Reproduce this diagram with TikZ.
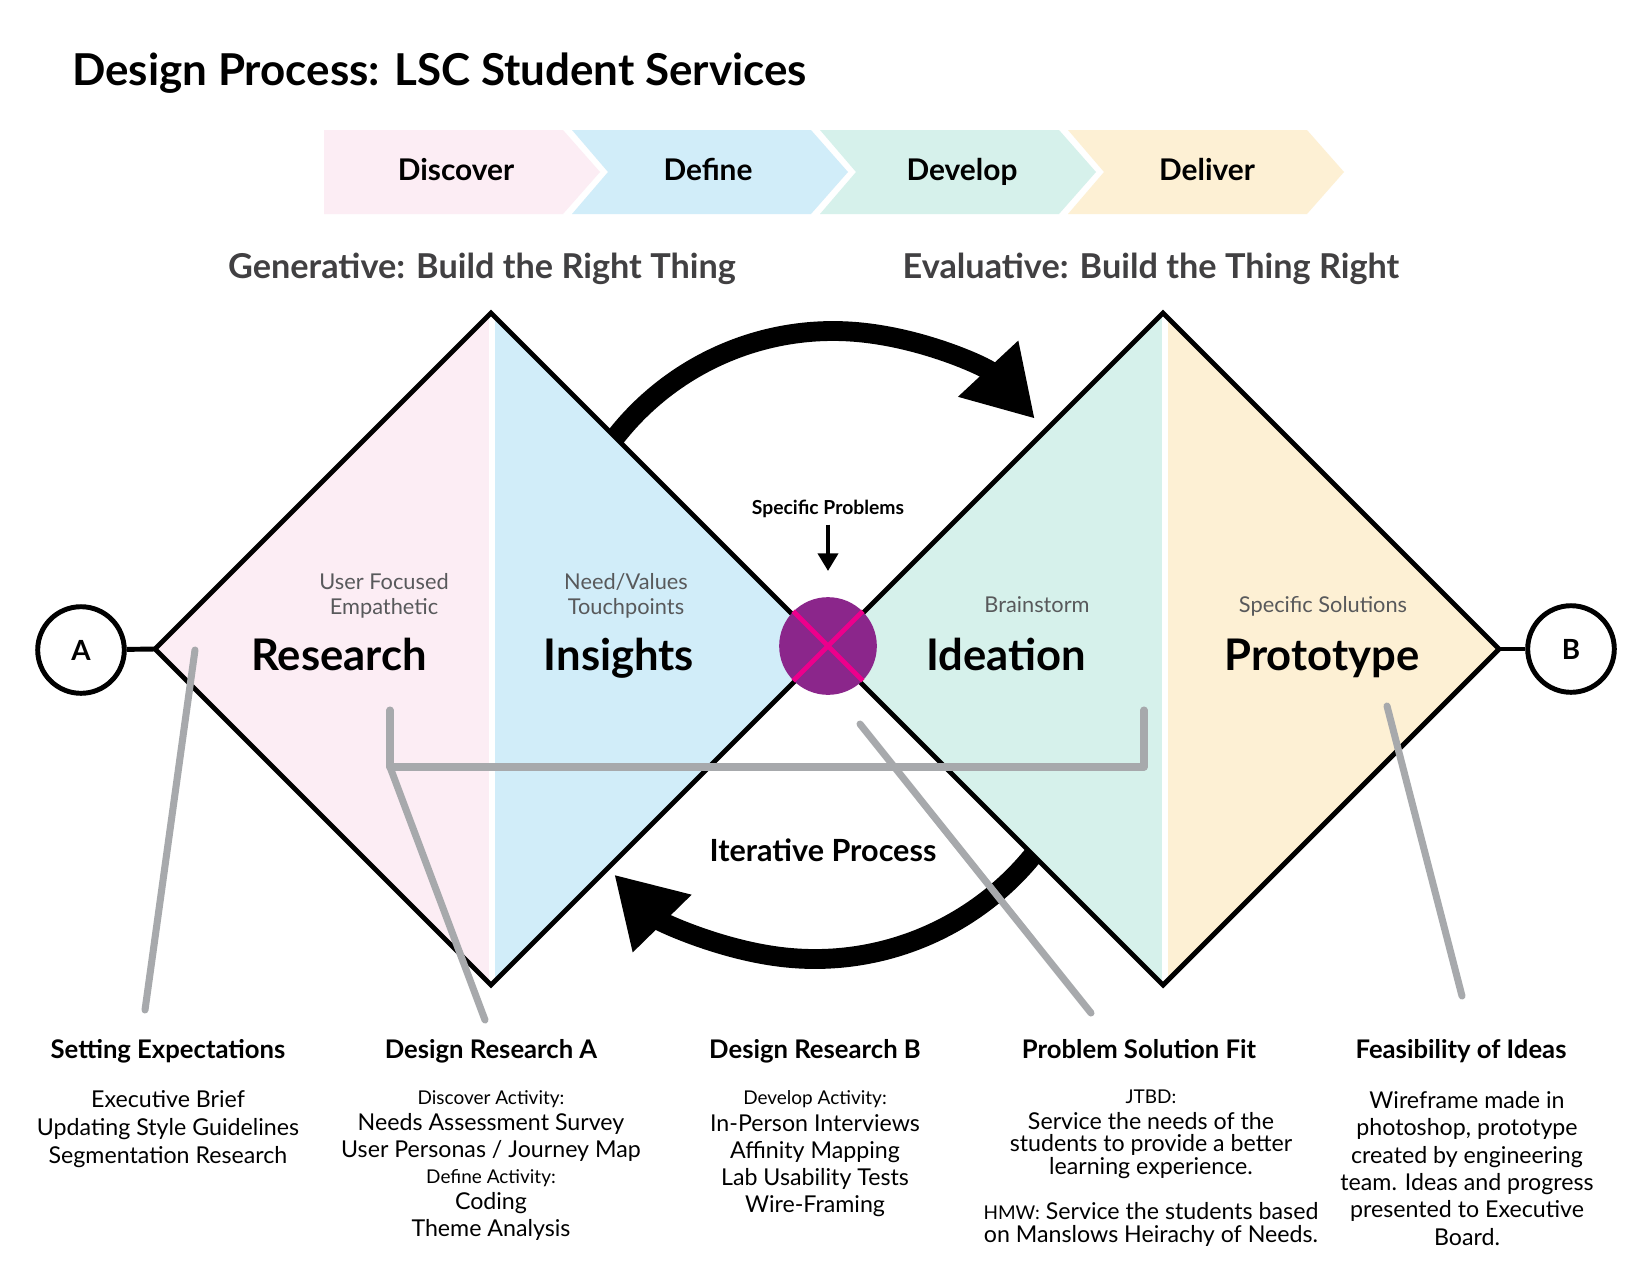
\documentclass[tikz,border=0pt]{standalone}
\usepackage{fontspec}
\setmainfont{Lato}
\usetikzlibrary{arrows.meta,positioning}
\definecolor{discoverpink}{RGB}{252,237,244}
\definecolor{defineblue}{RGB}{209,237,249}
\definecolor{developmint}{RGB}{214,241,235}
\definecolor{delivercream}{RGB}{253,240,212}
\definecolor{fitpurple}{RGB}{139,38,139}
\definecolor{fitmagenta}{RGB}{236,0,140}
\definecolor{leadgray}{RGB}{167,169,172}
\definecolor{hintgray}{RGB}{88,89,91}
\definecolor{modegray}{RGB}{65,64,66}
\newcommand{\activity}[1]{{\fontsize{10.8}{15}\selectfont #1}}
\tikzset{
  phase/.style={anchor=base,font=\fontsize{17}{20}\selectfont\bfseries},
  mode/.style={anchor=base,text=modegray,font=\fontsize{19.5}{23}\selectfont\bfseries},
  stage/.style={anchor=base,font=\fontsize{24.8}{29}\selectfont\bfseries},
  hint/.style={anchor=north,align=center,text=hintgray,font=\fontsize{12.4}{14.2}\selectfont},
  endpoint/.style={circle,draw,line width=2.8pt,minimum size=49.3pt,font=\fontsize{15.8}{19}\selectfont\bfseries},
  outline/.style={line width=2.8pt,line join=miter},
  loop arrow/.style={line width=11.3pt,-{Triangle[length=39pt,width=44pt]}},
  lead/.style={leadgray,line width=4pt,line cap=round,line join=round},
  head/.style={anchor=base,font=\fontsize{14.6}{17}\selectfont\bfseries},
  body/.style={anchor=north,align=center,font=\fontsize{13.2}{#1}\selectfont},
}
\begin{document}
\begin{tikzpicture}[x=0.02cm,y=-0.02cm,every node/.style={inner sep=0pt}]
\newcommand{\gendiamond}{(155,649) -- (491,313) -- (827,649) -- (491,985) -- cycle}%generatif
\newcommand{\evaldiamond}{(827,649) -- (1163,313) -- (1499,649) -- (1163,985) -- cycle}%evaluatif
\fill[white] (0,0) rectangle (1650,1275);
\useasboundingbox (0,0) rectangle (1650,1275);
% titre
\node[anchor=base west,font=\fontsize{25}{30}\selectfont\bfseries] (title) at (72,85) {Design Process: LSC Student Services};
% chevrons des phases
\fill[discoverpink] (324,130) -- (563,130) -- (600,172) -- (563,214) -- (324,214) -- cycle;
\foreach \x/\col in {572/defineblue,820/developmint,1068/delivercream}
  \fill[\col] (\x,130) -- ++(239,0) -- ++(37,42) -- ++(-37,42) -- ++(-239,0) -- ++(36,-42) -- cycle;
\node[phase] (discover) at (456,180) {Discover};
\node[phase] (define) at (708,180) {Define};
\node[phase] (develop) at (962,180) {Develop};
\node[phase] (deliver) at (1207,180) {Deliver};
\node[mode] (generative) at (482,278) {Generative: Build the Right Thing};
\node[mode] (evaluative) at (1151,278) {Evaluative: Build the Thing Right};
% fleches de boucle (sous les losanges)
\coordinate (topc) at (833,607);
\coordinate (botc) at (815,678);
\draw[loop arrow] ([shift={(-146:276)}]topc) arc[start angle=-146,end angle=-43,radius=276];
\draw[loop arrow] ([shift={(36:281)}]botc) arc[start angle=36,end angle=135.6,radius=281];
% losange gauche
\begin{scope}
\clip \gendiamond;
\fill[discoverpink] (150,300) rectangle (491,1000);
\fill[defineblue] (491,300) rectangle (830,1000);
\fill[white] (489,300) rectangle (495,1000);
\end{scope}
% losange droit
\begin{scope}
\clip \evaldiamond;
\fill[developmint] (820,300) rectangle (1165,1000);
\fill[delivercream] (1165,300) rectangle (1505,1000);
\fill[white] (1162,300) rectangle (1168,1000);
\end{scope}
\draw[outline] \gendiamond;
\draw[outline] \evaldiamond;
% extremites A et B
\coordinate (genW) at (155,649);
\coordinate (evalE) at (1499,649);
\node[endpoint] (A) at (81,650) {A};
\node[endpoint] (B) at (1571,649) {B};
\draw[outline] (A) -- (genW);
\draw[outline] (evalE) -- (B);
% point de jonction
\node[circle,fill=fitpurple,minimum size=55.6pt] (fit) at (828,646) {};
\draw[fitmagenta,line width=2.8pt] (fit.north west) -- (fit.south east) (fit.north east) -- (fit.south west);
\node[anchor=base,font=\fontsize{11}{13}\selectfont\bfseries] (problems) at (828,514) {Specific Problems};
\draw[line width=2.3pt,-{Triangle[length=10pt,width=11.3pt]},shorten <=4pt,shorten >=14.7pt] (problems) -- (fit);
% textes des losanges
\node[hint] (userfocus) at (384,571.5) {\strut User Focused\\Empathetic};
\node[hint] (needs) at (626,571.5) {\strut Need/Values\\Touchpoints};
\node[hint,anchor=base] (brainstorm) at (1037,612) {Brainstorm};
\node[hint,anchor=base] (solutions) at (1323,612) {Specific Solutions};
\node[stage] (research) at (339,670) {Research};
\node[stage] (insights) at (619,670) {Insights};
\node[stage] (ideation) at (1006,670) {Ideation};
\node[stage] (prototype) at (1322,670) {Prototype};
\node[phase,font=\fontsize{17.4}{20}\selectfont\bfseries] (iterative) at (823,861) {Iterative Process};
% titres du bas
\node[head] (hSet) at (168,1058) {Setting Expectations};
\node[head] (hResA) at (491,1058) {Design Research A};
\node[head] (hResB) at (815,1058) {Design Research B};
\node[head] (hFit) at (1139,1058) {Problem Solution Fit};
\node[head] (hFeas) at (1461,1058) {Feasibility of Ideas};
\node[body=15.9pt] (setBody) at (168,1087.4) {\strut Executive Brief\\Updating Style Guidelines\\Segmentation Research};
\node[body=15pt] (resABody) at (491,1085.5) {\strut\activity{Discover Activity:}\\Needs Assessment Survey\\User Personas / Journey Map\\\activity{Define Activity:}\\Coding\\Theme Analysis};
\node[body=15.45pt] (resBBody) at (815,1085) {\strut\activity{Develop Activity:}\\In-Person Interviews\\Affinity Mapping\\Lab Usability Tests\\Wire-Framing};
\node[body=13pt] (fitBody) at (1151,1087) {\strut\activity{JTBD:}\\Service the needs of the\\students to provide a better\\learning experience.\\[12.5pt]\activity{HMW:} Service the students based\\on Manslows Heirachy of Needs.};
\node[body=15.6pt] (feasBody) at (1467,1088.7) {\strut Wireframe made in\\photoshop, prototype\\created by engineering\\team. Ideas and progress\\presented to Executive\\Board.};
% traits gris
\coordinate (pinSet) at (195,650);
\coordinate (tipSet) at (145,1010);
\coordinate (pinResA) at (390,710);
\coordinate (kneeResA) at (390,767);
\coordinate (kneeIdea) at (1144,767);
\coordinate (pinIdea) at (1144,710);
\coordinate (tipResA) at (485,1020);
\coordinate (pinFit) at (860,724);
\coordinate (tipFit) at (1091,1013);
\coordinate (pinProto) at (1387,706);
\coordinate (tipProto) at (1462,996);
\draw[lead] (pinSet) -- (tipSet);
\draw[lead] (pinResA) -- (kneeResA) -- (kneeIdea) -- (pinIdea);
\draw[lead] (kneeResA) -- (tipResA);
\draw[lead] (pinFit) -- (tipFit);
\draw[lead] (pinProto) -- (tipProto);
\end{tikzpicture}
\end{document}
